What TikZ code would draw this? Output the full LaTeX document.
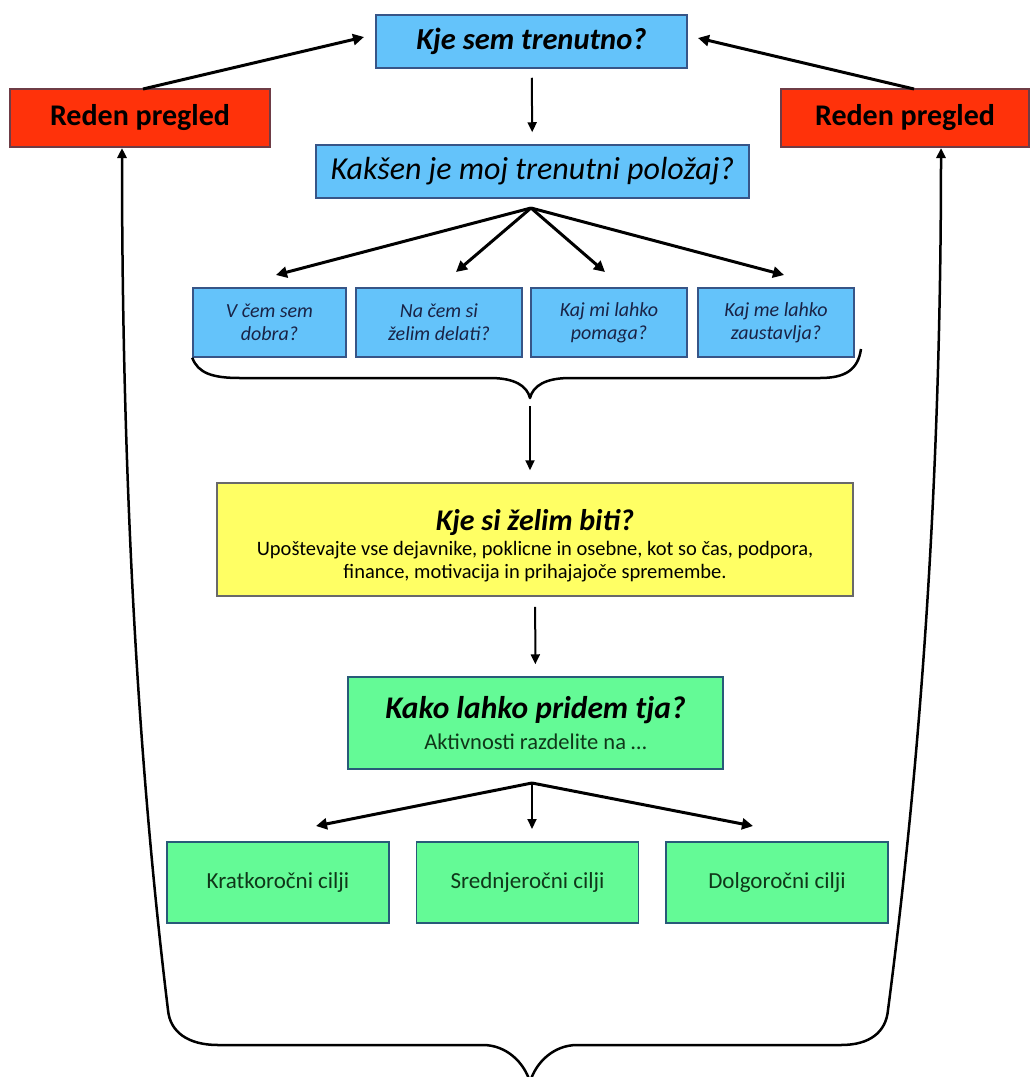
\documentclass[tikz,border=0pt]{standalone}
\usepackage{fontspec}
\setmainfont{Carlito}
\usetikzlibrary{arrows.meta}
\definecolor{bfill}{RGB}{100,195,250}
\definecolor{bdraw}{RGB}{55,85,135}
\definecolor{rfill}{RGB}{255,50,10}
\definecolor{rdraw}{RGB}{110,60,70}
\definecolor{yfill}{RGB}{255,255,100}
\definecolor{ydraw}{RGB}{105,105,105}
\definecolor{gfill}{RGB}{100,250,150}
\definecolor{gdraw}{RGB}{40,90,120}
\definecolor{qtext}{RGB}{25,35,70}
\definecolor{gtext}{RGB}{15,55,25}
\tikzset{
  box/.style={draw, line width=1.5pt, inner sep=0pt, align=center, anchor=center},
  bluebox/.style={box, fill=bfill, draw=bdraw},
  redbox/.style={box, fill=rfill, draw=rdraw, font=\fontsize{30}{34}\selectfont\bfseries},
  qbox/.style={bluebox, text=qtext, font=\fontsize{20}{23}\selectfont\itshape},
  gbox/.style={box, fill=gfill, draw=gdraw},
  goalbox/.style={gbox, text=gtext, font=\fontsize{23}{26}\selectfont, minimum width=222pt, minimum height=81pt},
  thickarrow/.style={line width=3pt, -{Triangle[length=11pt,width=11pt]}},
  thinarrow/.style={line width=2pt, -{Triangle[length=10pt,width=9pt]}},
  bracestyle/.style={line width=2.5pt, line join=round}
}
\begin{document}
\begin{tikzpicture}[x=1pt,y=-1pt]
\useasboundingbox (0,0) rectangle (1031,1077);
% top nodes
\node[bluebox, minimum width=311pt, minimum height=53pt, font=\fontsize{30.5}{34}\selectfont\bfseries\itshape] (top) at (531.5,41.5) {Kje sem trenutno?};
\node[bluebox, minimum width=433pt, minimum height=53pt, font=\fontsize{32}{36}\selectfont\itshape] (pos) at (532.5,171.5) {Kakšen je moj trenutni položaj?};
\node[redbox, minimum width=260pt, minimum height=58pt] (red1) at (140,118) {Reden pregled};
\node[redbox, minimum width=248pt, minimum height=58pt] (red2) at (905,118) {Reden pregled};
% question boxes
\node[qbox, minimum width=153pt, minimum height=69pt] (q1) at (269.5,322.5) {V čem sem\\dobra?};
\node[qbox, minimum width=166pt, minimum height=69pt] (q2) at (439,322.5) {Na čem si\\želim delati?};
\node[qbox, minimum width=156pt, minimum height=69pt] (q3) at (609,322.5) {Kaj mi lahko\\pomaga?};
\node[qbox, minimum width=156pt, minimum height=69pt] (q4) at (776,322.5) {Kaj me lahko\\zaustavlja?};
% yellow
\node[box, fill=yfill, draw=ydraw, minimum width=636pt, minimum height=113pt,
  font=\fontsize{30}{30}\selectfont\bfseries\itshape] (want) at (535,539.5)
  {\rule{0pt}{33pt}Kje si želim biti?\\[-5pt]
   \normalfont\fontsize{20.5}{22}\selectfont Upoštevajte vse dejavnike, poklicne in osebne, kot so čas, podpora,\\[-7pt]
   \normalfont\fontsize{20.5}{22}\selectfont finance, motivacija in prihajajoče spremembe.};
% green
\node[gbox, minimum width=375pt, minimum height=92pt,
  font=\fontsize{31.5}{32}\selectfont\bfseries\itshape] (how) at (535.5,723)
  {Kako lahko pridem tja?\\[-1pt]
   \normalfont\fontsize{22.5}{26}\selectfont\color{gtext}Aktivnosti razdelite na …};
\node[goalbox] (g1) at (278,882.5) {Kratkoročni cilji};
\node[goalbox] (g2) at (527.5,882.5) {Srednjeročni cilji};
\node[goalbox] (g3) at (777,882.5) {Dolgoročni cilji};
% coordinates
\coordinate (apex1) at (531,208);
\coordinate (t1) at (276,275);
\coordinate (t2) at (456,272);
\coordinate (t3) at (605,272);
\coordinate (t4) at (784,275);
\coordinate (apex2) at (532,783);
\coordinate (u1) at (316,826);
\coordinate (u2) at (532,829);
\coordinate (u3) at (753,826);
\coordinate (btip) at (530,398);
\coordinate (bigtip) at (530,1082);
\coordinate (la) at (122,148);
\coordinate (ra) at (941,148);
\coordinate (lstart) at (143,89);
\coordinate (lend) at (364,37);
\coordinate (rstart) at (914,89);
\coordinate (rend) at (698,38);
% arrows
\draw[thinarrow, shorten <=9pt, shorten >=12pt] (top) -- (pos);
\draw[thickarrow] (apex1) -- (t1);
\draw[thickarrow] (apex1) -- (t2);
\draw[thickarrow] (apex1) -- (t3);
\draw[thickarrow] (apex1) -- (t4);
\draw[thickarrow] (lstart) -- (lend);
\draw[thickarrow] (rstart) -- (rend);
\draw[thinarrow, shorten <=8pt, shorten >=12pt] (btip) -- (btip |- want.north);
\draw[thinarrow, shorten <=10pt, shorten >=12pt] (want) -- (how);
\draw[thickarrow] (apex2) -- (u1);
\draw[thinarrow] (apex2) -- (u2);
\draw[thickarrow] (apex2) -- (u3);
% small brace
\draw[bracestyle] (q1.south west) .. controls (198,373) and (212,378) .. (240,378) -- (490,378)
  .. controls (515,378) and (527,386) .. (btip)
  .. controls (533,386) and (545,378) .. (570,378) -- (820,378)
  .. controls (845,378) and (858,370) .. (861,349);
% big brace
\draw[bracestyle, -{Triangle[length=10pt,width=9pt]}] (bigtip) .. controls (524,1062) and (506,1045) .. (483,1045)
  -- (218,1045) .. controls (188,1045) and (170,1032) .. (168,1010)
  .. controls (140,780) and (122,500) .. (la);
\draw[bracestyle, -{Triangle[length=10pt,width=9pt]}] (bigtip) .. controls (536,1062) and (554,1045) .. (577,1045)
  -- (841,1045) .. controls (870,1045) and (886,1032) .. (888,1010)
  .. controls (918,780) and (941,500) .. (ra);
\end{tikzpicture}
\end{document}
